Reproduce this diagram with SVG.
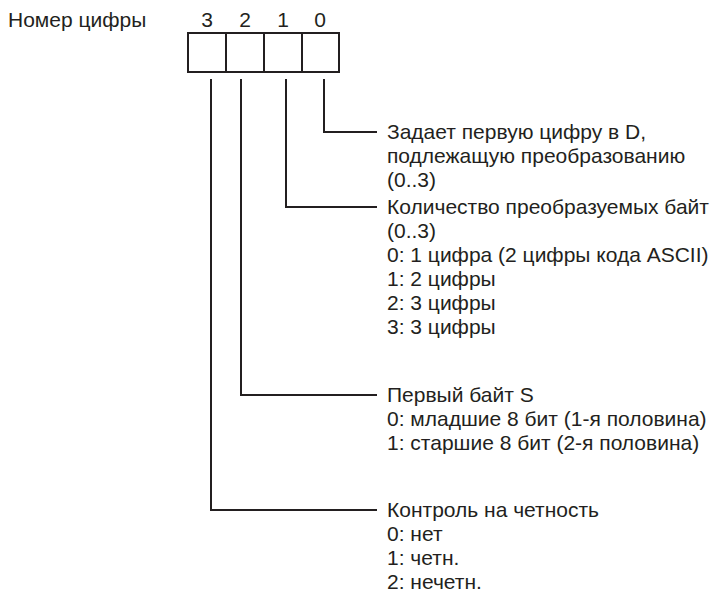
<svg xmlns="http://www.w3.org/2000/svg" width="717" height="598" viewBox="0 0 717 598">
<style>
text{font-family:"Liberation Sans",Arial,sans-serif;font-size:21px;fill:#231f20}
.ln{fill:none;stroke:#231f20;stroke-width:2}
</style>
<rect width="717" height="598" fill="#fff"/>
<g id="header">
<text x="8" y="27">Номер цифры</text>
<text x="207" y="27" text-anchor="middle">3</text>
<text x="245" y="27" text-anchor="middle">2</text>
<text x="283" y="27" text-anchor="middle">1</text>
<text x="320" y="27" text-anchor="middle">0</text>
</g>
<g id="register">
<rect class="ln" x="188" y="33" width="151" height="39"/>
<line class="ln" x1="226" y1="33" x2="226" y2="72"/>
<line class="ln" x1="264" y1="33" x2="264" y2="72"/>
<line class="ln" x1="302" y1="33" x2="302" y2="72"/>
</g>
<g id="connectors">
<polyline class="ln" points="324,79 324,132 377,132"/>
<polyline class="ln" points="286,79 286,207 377,207"/>
<polyline class="ln" points="241,79 241,395 377,395"/>
<polyline class="ln" points="211,79 211,510 377,510"/>
</g>
<g id="bit0">
<text x="387" y="139">Задает первую цифру в D,</text>
<text x="387" y="163">подлежащую преобразованию</text>
<text x="387" y="187">(0..3)</text>
</g>
<g id="bit1">
<text x="387" y="214">Количество преобразуемых байт</text>
<text x="387" y="238">(0..3)</text>
<text x="387" y="262">0: 1 цифра (2 цифры кода ASCII)</text>
<text x="387" y="286">1: 2 цифры</text>
<text x="387" y="310">2: 3 цифры</text>
<text x="387" y="334">3: 3 цифры</text>
</g>
<g id="bit2">
<text x="387" y="402">Первый байт S</text>
<text x="387" y="426">0: младшие 8 бит (1-я половина)</text>
<text x="387" y="450">1: старшие 8 бит (2-я половина)</text>
</g>
<g id="bit3">
<text x="387" y="517">Контроль на четность</text>
<text x="387" y="541">0: нет</text>
<text x="387" y="565">1: четн.</text>
<text x="387" y="589">2: нечетн.</text>
</g>
</svg>
